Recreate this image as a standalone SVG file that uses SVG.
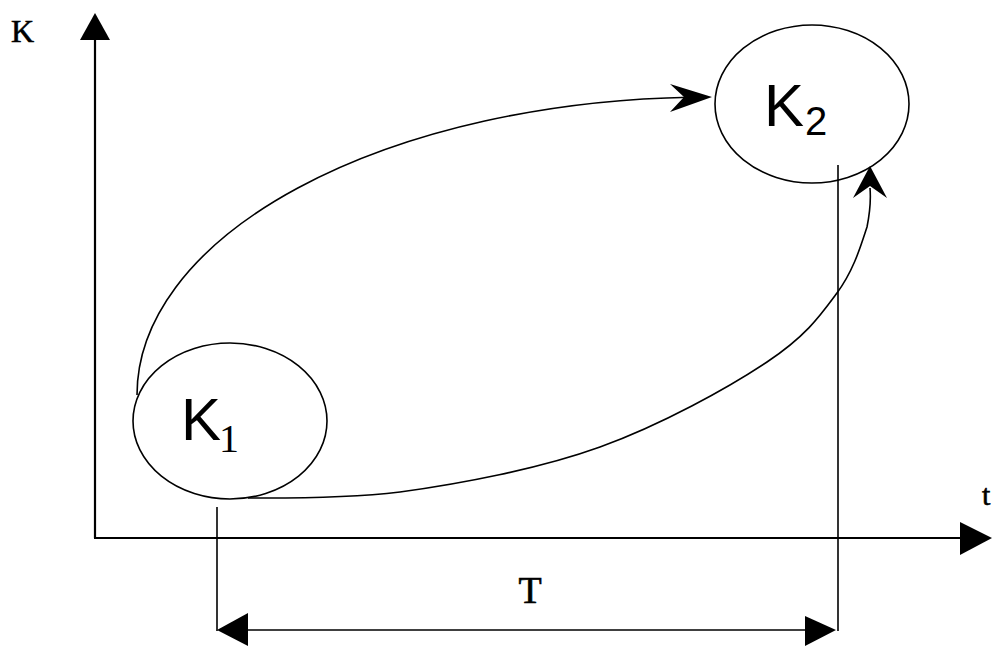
<svg xmlns="http://www.w3.org/2000/svg" width="1001" height="648" viewBox="0 0 1001 648">
<style>
.ax{stroke:#000;stroke-width:2.2;fill:none}
.ln{stroke:#000;stroke-width:1.6;fill:none}
.ah{fill:#000;stroke:none}
.mono{font-family:"Liberation Serif","Times New Roman",serif;fill:#000;stroke:#000;stroke-width:0.6}
.big{font-family:"Liberation Sans",Arial,sans-serif;font-size:60px;fill:#000}
.subs{font-family:"Liberation Serif","Times New Roman",serif;font-size:40px;fill:#000}
.subss{font-family:"Liberation Sans",Arial,sans-serif;font-size:40px;fill:#000}
</style>
<rect width="1001" height="648" fill="#fff"/>
<g id="axes">
<line class="ax" x1="95" y1="538" x2="95" y2="38"/>
<polygon class="ah" points="95,13 80,40 110,40"/>
<line class="ax" x1="94" y1="538" x2="962" y2="538"/>
<polygon class="ah" points="992,538 960,522 960,555"/>
<text class="mono" x="11" y="42" font-size="32">K</text>
<text class="mono" x="982" y="505" font-size="30">t</text>
</g>
<g id="K1">
<ellipse class="ln" cx="230" cy="421" rx="97" ry="78"/>
<text class="big" x="181" y="440">K</text>
<text class="subs" x="219" y="452">1</text>
</g>
<g id="K2">
<ellipse class="ln" cx="812" cy="104" rx="97" ry="79"/>
<text class="big" x="764" y="126">K</text>
<text class="subss" x="805" y="135">2</text>
</g>
<g id="connectors">
<path class="ln" d="M137,395 A573,298 0 0 1 690,97.2"/>
<polygon class="ah" points="712,97 670,84 684,97 670,112"/>
<path class="ln" d="M248,498 C273,498 341,499 400,492 C459,484 539,469 600,447 C661,425 728,388 767,362 C806,336 820,316 837,293 C854,270 861,245 867,227 C870,212 871,200 870,188"/>
<polygon class="ah" points="870,166 853,198 870,186 887,198"/>
<line class="ln" x1="217" y1="507" x2="217" y2="631"/>
<line class="ln" x1="838" y1="165" x2="838" y2="631"/>
<line class="ln" x1="240" y1="630" x2="812" y2="630"/>
<polygon class="ah" points="217,630 248,613 248,646"/>
<polygon class="ah" points="836,630 805,616 805,646"/>
<text class="mono" x="530" y="603" font-size="38" text-anchor="middle">T</text>
</g>
</svg>
